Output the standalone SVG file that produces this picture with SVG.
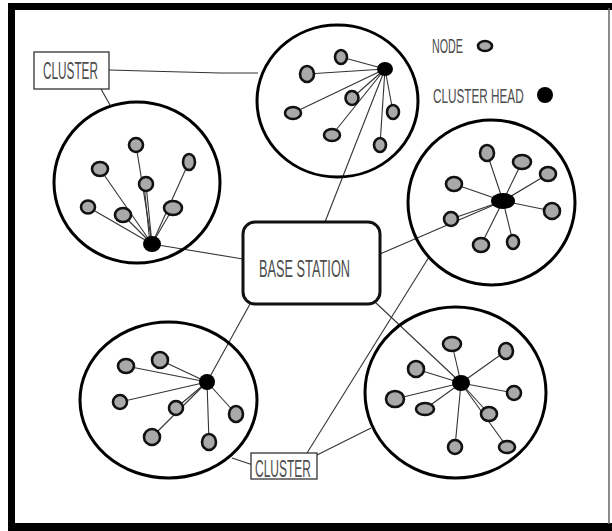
<svg xmlns="http://www.w3.org/2000/svg" width="612" height="531" viewBox="0 0 612 531">
<style>
.frame{fill:none;stroke:#000}
.circ{fill:none;stroke:#000;stroke-width:3}
.n{fill:#a9a9a9;stroke:#111;stroke-width:2.6}
.h{fill:#000}
.ln{stroke:#333;stroke-width:1.1;fill:none}
.box{fill:#fff;stroke:#333;stroke-width:1.3}
.t{font-family:"Liberation Sans",Arial,sans-serif;fill:#4d4d4d;font-size:24px}
.lg{font-size:21px}
</style>
<rect width="612" height="531" fill="#fff"/>
<g id="frame">
<rect x="8" y="3" width="604" height="7" fill="#000"/>
<rect x="8" y="3" width="7" height="528" fill="#000"/>
<rect x="8" y="523" width="604" height="8" fill="#000"/>
<line x1="609" y1="8" x2="609" y2="524" stroke="#666" stroke-width="1.5"/>
</g>
<g id="connectors">
<line class="ln" x1="385" y1="69" x2="341" y2="57"/>
<line class="ln" x1="385" y1="69" x2="307" y2="74"/>
<line class="ln" x1="385" y1="69" x2="293" y2="113"/>
<line class="ln" x1="385" y1="69" x2="352" y2="98"/>
<line class="ln" x1="385" y1="69" x2="393" y2="112"/>
<line class="ln" x1="385" y1="69" x2="332" y2="135"/>
<line class="ln" x1="385" y1="69" x2="380" y2="145"/>
<line class="ln" x1="385" y1="69" x2="325" y2="222"/>
<line class="ln" x1="152" y1="244" x2="136" y2="145"/>
<line class="ln" x1="152" y1="244" x2="100" y2="169"/>
<line class="ln" x1="152" y1="244" x2="189" y2="162"/>
<line class="ln" x1="152" y1="244" x2="146" y2="184"/>
<line class="ln" x1="150" y1="244" x2="144" y2="184"/>
<line class="ln" x1="152" y1="244" x2="88" y2="207"/>
<line class="ln" x1="152" y1="244" x2="123" y2="215"/>
<line class="ln" x1="152" y1="244" x2="173" y2="208"/>
<line class="ln" x1="152" y1="244" x2="243" y2="259"/>
<line class="ln" x1="503" y1="201" x2="487" y2="153"/>
<line class="ln" x1="503" y1="201" x2="522" y2="162"/>
<line class="ln" x1="503" y1="201" x2="548" y2="174"/>
<line class="ln" x1="503" y1="201" x2="454" y2="184"/>
<line class="ln" x1="503" y1="201" x2="552" y2="211"/>
<line class="ln" x1="503" y1="201" x2="451" y2="219"/>
<line class="ln" x1="503" y1="201" x2="481" y2="245"/>
<line class="ln" x1="503" y1="201" x2="513" y2="242"/>
<line class="ln" x1="503" y1="201" x2="380" y2="254"/>
<line class="ln" x1="207" y1="382" x2="126" y2="366"/>
<line class="ln" x1="207" y1="382" x2="160" y2="360"/>
<line class="ln" x1="207" y1="382" x2="120" y2="402"/>
<line class="ln" x1="207" y1="382" x2="176" y2="408"/>
<line class="ln" x1="207" y1="382" x2="236" y2="414"/>
<line class="ln" x1="207" y1="382" x2="152" y2="437"/>
<line class="ln" x1="207" y1="382" x2="209" y2="442"/>
<line class="ln" x1="207" y1="382" x2="250" y2="304"/>
<line class="ln" x1="461" y1="383" x2="452" y2="344"/>
<line class="ln" x1="461" y1="383" x2="506" y2="351"/>
<line class="ln" x1="461" y1="383" x2="416" y2="369"/>
<line class="ln" x1="461" y1="383" x2="514" y2="393"/>
<line class="ln" x1="461" y1="383" x2="395" y2="399"/>
<line class="ln" x1="461" y1="383" x2="425" y2="409"/>
<line class="ln" x1="461" y1="383" x2="489" y2="414"/>
<line class="ln" x1="461" y1="383" x2="455" y2="447"/>
<line class="ln" x1="461" y1="383" x2="507" y2="447"/>
<line class="ln" x1="461" y1="383" x2="375" y2="302"/>
<polyline class="ln" points="109,70 145,71 220,73 258,73"/>
<line class="ln" x1="101" y1="89" x2="110" y2="105"/>
<line class="ln" x1="253" y1="465" x2="232" y2="458"/>
<line class="ln" x1="307" y1="453" x2="429" y2="257"/>
<line class="ln" x1="317" y1="455" x2="371" y2="428"/>
</g>
<g id="cluster-top">
<ellipse class="circ" cx="337.5" cy="101" rx="80.5" ry="76"/>
<ellipse class="n" cx="341" cy="57" rx="6" ry="7"/>
<ellipse class="n" cx="307" cy="74" rx="7" ry="8"/>
<ellipse class="n" cx="293" cy="113" rx="8" ry="6"/>
<ellipse class="n" cx="352" cy="98" rx="6.5" ry="7"/>
<ellipse class="n" cx="393" cy="112" rx="6" ry="7"/>
<ellipse class="n" cx="332" cy="135" rx="8" ry="6"/>
<ellipse class="n" cx="380" cy="145" rx="6" ry="7"/>
<ellipse class="h" cx="385" cy="69" rx="8" ry="7"/>
</g>
<g id="cluster-left">
<ellipse class="circ" cx="137" cy="182.5" rx="83" ry="80.5"/>
<ellipse class="n" cx="136" cy="145" rx="7" ry="7"/>
<ellipse class="n" cx="100" cy="169" rx="8" ry="7"/>
<ellipse class="n" cx="189" cy="162" rx="6" ry="8"/>
<ellipse class="n" cx="146" cy="184" rx="7" ry="7"/>
<ellipse class="n" cx="88" cy="207" rx="7" ry="6.5"/>
<ellipse class="n" cx="123" cy="215" rx="8" ry="7"/>
<ellipse class="n" cx="173" cy="208" rx="9" ry="7"/>
<ellipse class="h" cx="152" cy="244" rx="9" ry="8"/>
</g>
<g id="cluster-right">
<ellipse class="circ" cx="491.5" cy="202.5" rx="83.5" ry="82.5"/>
<ellipse class="n" cx="487" cy="153" rx="7" ry="8"/>
<ellipse class="n" cx="522" cy="162" rx="9" ry="7"/>
<ellipse class="n" cx="548" cy="174" rx="8" ry="7"/>
<ellipse class="n" cx="454" cy="184" rx="8" ry="7"/>
<ellipse class="n" cx="552" cy="211" rx="8" ry="8"/>
<ellipse class="n" cx="451" cy="219" rx="7" ry="7"/>
<ellipse class="n" cx="481" cy="245" rx="8" ry="7"/>
<ellipse class="n" cx="513" cy="242" rx="6" ry="7"/>
<ellipse class="h" cx="503" cy="201" rx="12" ry="8"/>
</g>
<g id="cluster-bottom-left">
<ellipse class="circ" cx="168.5" cy="400" rx="88.5" ry="78"/>
<ellipse class="n" cx="126" cy="366" rx="8" ry="7"/>
<ellipse class="n" cx="160" cy="360" rx="8" ry="8"/>
<ellipse class="n" cx="120" cy="402" rx="7" ry="7"/>
<ellipse class="n" cx="176" cy="408" rx="7" ry="7"/>
<ellipse class="n" cx="236" cy="414" rx="7" ry="8"/>
<ellipse class="n" cx="152" cy="437" rx="8" ry="8"/>
<ellipse class="n" cx="209" cy="442" rx="7" ry="8"/>
<ellipse class="h" cx="207" cy="382" rx="8" ry="8"/>
</g>
<g id="cluster-bottom-right">
<ellipse class="circ" cx="455.5" cy="392.5" rx="90.5" ry="85.5"/>
<ellipse class="n" cx="452" cy="344" rx="9" ry="7"/>
<ellipse class="n" cx="506" cy="351" rx="7" ry="8"/>
<ellipse class="n" cx="416" cy="369" rx="8" ry="8"/>
<ellipse class="n" cx="514" cy="393" rx="7" ry="7"/>
<ellipse class="n" cx="395" cy="399" rx="9" ry="8"/>
<ellipse class="n" cx="425" cy="409" rx="9" ry="6"/>
<ellipse class="n" cx="489" cy="414" rx="8" ry="7"/>
<ellipse class="n" cx="455" cy="447" rx="7" ry="7"/>
<ellipse class="n" cx="507" cy="447" rx="8" ry="6"/>
<ellipse class="h" cx="461" cy="383" rx="9" ry="8"/>
</g>
<g id="base-station">
<rect x="243" y="222" width="137" height="82" rx="12" fill="#fff" stroke="#111" stroke-width="3"/>
<text class="t" transform="translate(259,277) scale(0.532,1)">BASE STATION</text>
</g>
<g id="label-cluster-top">
<rect class="box" x="34" y="52" width="75" height="37"/>
<text class="t" transform="translate(43,79) scale(0.491,1)">CLUSTER</text>
</g>
<g id="label-cluster-bottom">
<rect class="box" x="251" y="453" width="66" height="26"/>
<text class="t" transform="translate(255,477) scale(0.5,1)">CLUSTER</text>
</g>
<g id="legend">
<text class="t lg" transform="translate(432,53) scale(0.51,1)">NODE</text>
<ellipse class="n" cx="485" cy="46" rx="7" ry="5"/>
<text class="t lg" transform="translate(433,103) scale(0.559,1)">CLUSTER HEAD</text>
<circle class="h" cx="545" cy="95" r="8"/>
</g>
</svg>
